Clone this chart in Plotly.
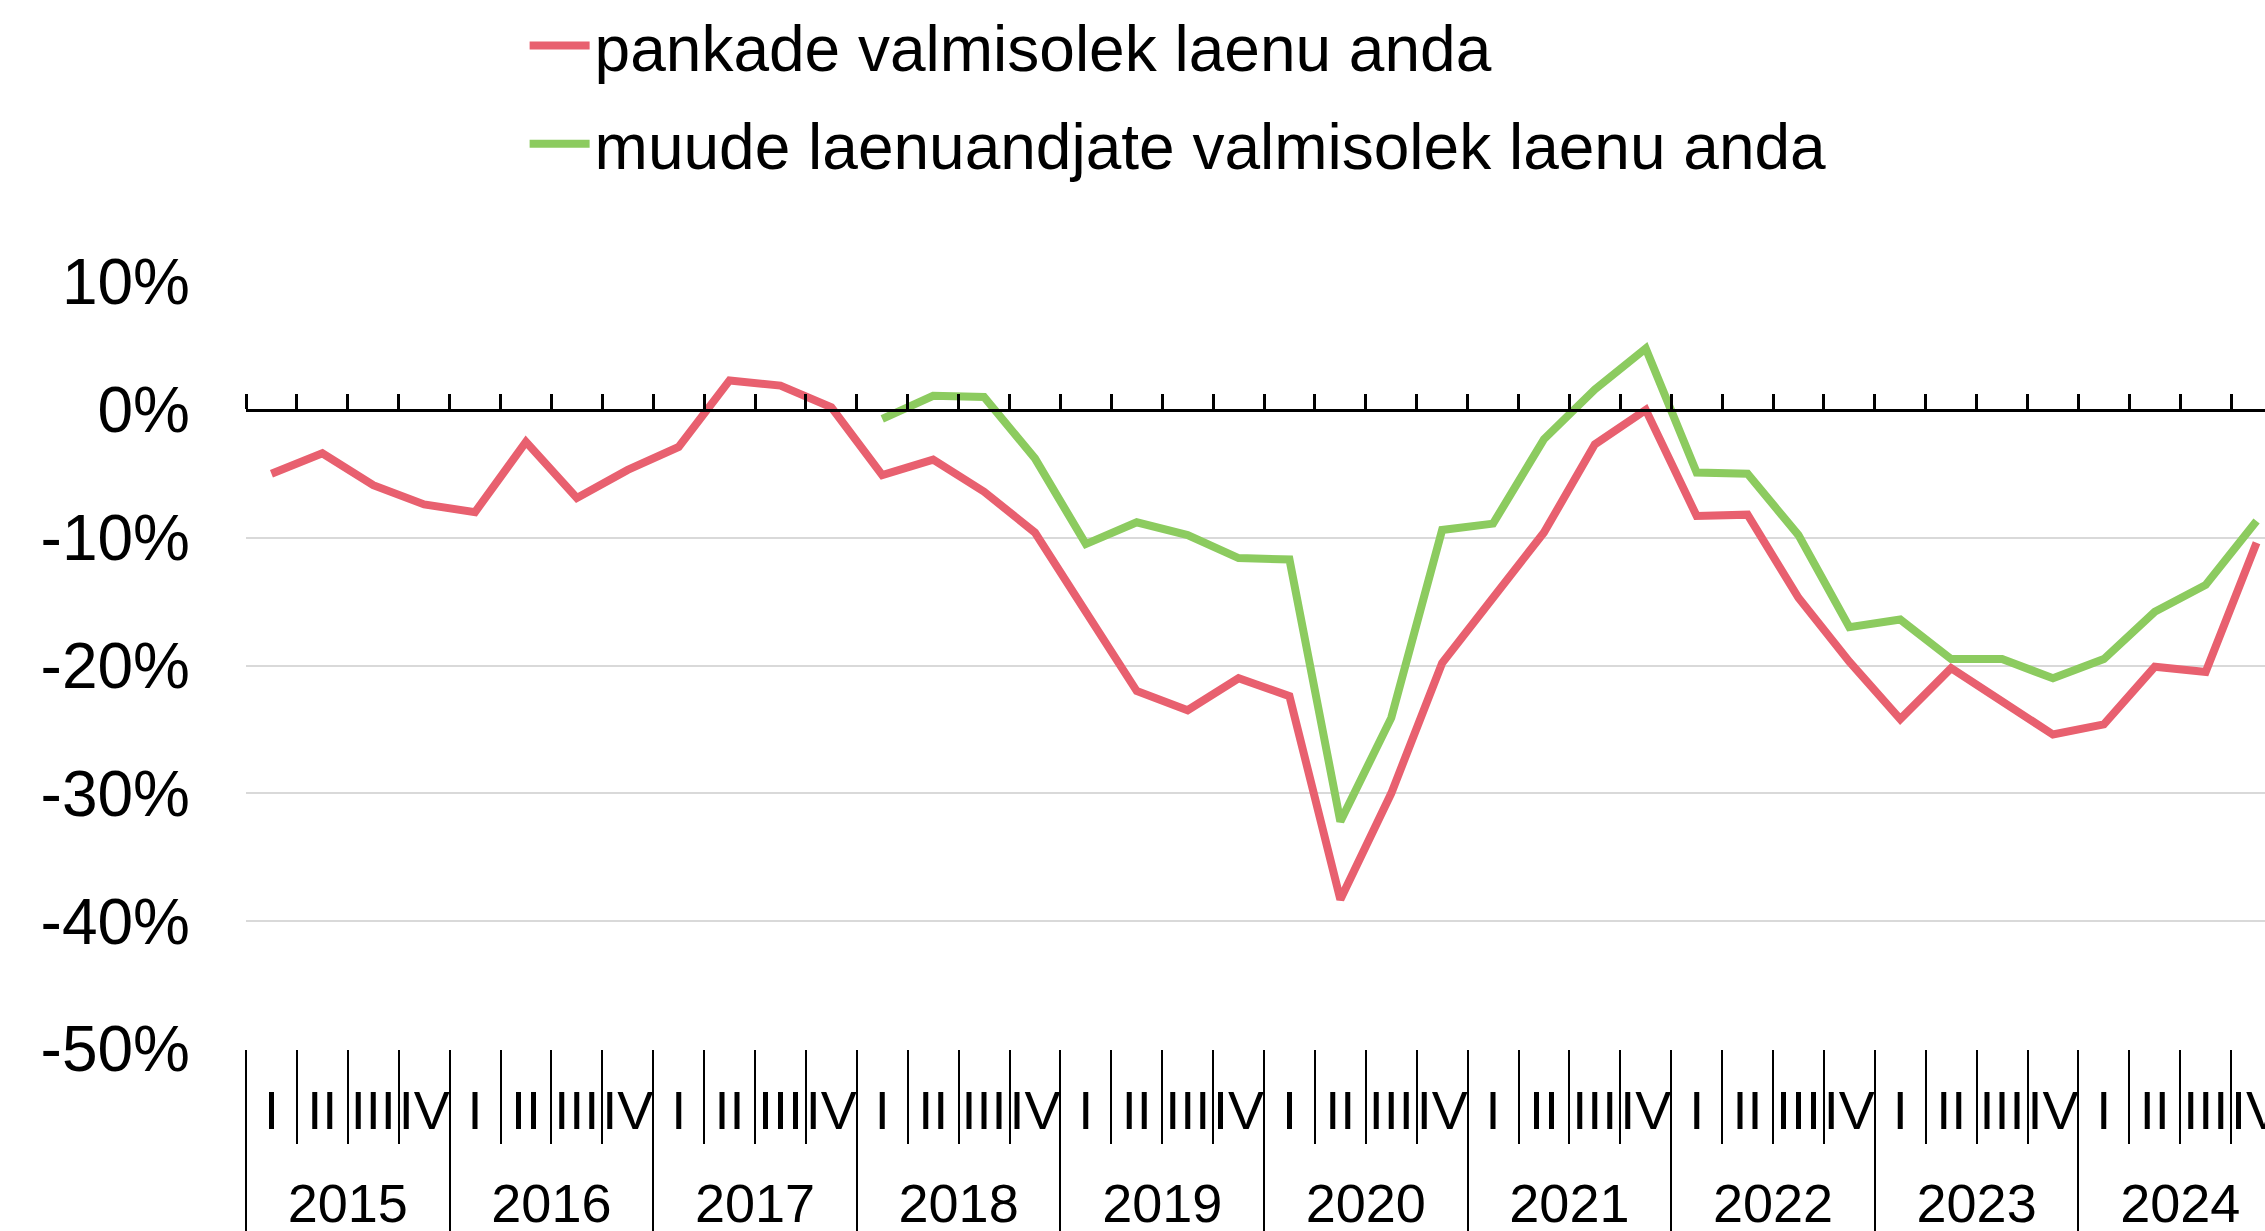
import plotly.graph_objects as go

years = ["2015", "2016", "2017", "2018", "2019", "2020", "2021", "2022", "2023", "2024"]
quarters = ["I", "II", "III", "IV"]

banks = [-5.0, -3.4, -5.9, -7.4,
         -8.0, -2.5, -6.9, -4.7,
         -2.9, 2.3, 1.9, 0.2,
         -5.1, -3.9, -6.4, -9.6,
         -15.8, -22.0, -23.5, -21.0,
         -22.4, -38.3, -30.0, -19.8,
         -14.7, -9.6, -2.7, 0.0,
         -8.3, -8.2, -14.7, -19.7,
         -24.2, -20.2, -22.8, -25.4,
         -24.6, -20.1, -20.5, -10.4]

others = [None, None, None, None,
          None, None, None, None,
          None, None, None, None,
          -0.7, 1.1, 1.0, -3.8,
          -10.5, -8.8, -9.8, -11.6,
          -11.7, -32.2, -24.1, -9.4,
          -8.9, -2.3, 1.6, 4.8,
          -4.9, -5.0, -9.8, -17.0,
          -16.4, -19.5, -19.5, -21.0,
          -19.5, -15.8, -13.7, -8.7]

names = ["pankade valmisolek laenu anda", "muude laenuandjate valmisolek laenu anda"]
colors = ["#E8606F", "#8CCB5F"]

y_tickvals = [10, 0, -10, -20, -30, -40, -50]
y_ticktext = ["10%", "0%", "-10%", "-20%", "-30%", "-40%", "-50%"]

cats = [f"{y} {q}" for y in years for q in quarters]
qlabels = [q for y in years for q in quarters]
n = len(cats)

W, H = 2265, 1231
ML, MR, MT, MB = 246, 0, 282, 182
plot_w = W - ML - MR
q_px = 50.9
xmax = -0.5 + plot_w / q_px
yr = [-50, 10]
FONT = "Liberation Sans, Arial, sans-serif"

fig = go.Figure()
fig.add_trace(go.Scatter(x=cats, y=banks, name=names[0], mode="lines",
                         line=dict(color=colors[0], width=8), legendgroup="a"))
fig.add_trace(go.Scatter(x=cats, y=others, name=names[1], mode="lines",
                         line=dict(color=colors[1], width=8), legendgroup="b"))
# helper traces for the overlay axes
fig.add_trace(go.Scatter(x=cats, y=[None] * n, xaxis="x2", showlegend=False,
                         hoverinfo="skip", mode="lines"))
fig.add_trace(go.Scatter(x=list(range(n)), y=[None] * n, xaxis="x3", showlegend=False,
                         hoverinfo="skip", mode="lines"))

year_centers = [4 * k + 1.5 for k in range(len(years))]
year_bounds = [4 * k - 0.5 for k in range(len(years) + 1)]

fig.update_layout(
    width=W, height=H,
    margin=dict(l=ML, r=MR, t=MT, b=MB, pad=0, autoexpand=False),
    plot_bgcolor="white", paper_bgcolor="white",
    font=dict(family=FONT, color="black"),
    showlegend=True,
    legend=dict(x=0.138, y=1.371, xanchor="left", yanchor="top",
                font=dict(size=64, family=FONT, color="black"),
                itemwidth=60,
                tracegroupgap=12, bgcolor="rgba(0,0,0,0)"),
    xaxis=dict(type="category", categoryorder="array", categoryarray=cats,
               range=[-0.5, xmax], tickvals=cats, ticktext=qlabels,
               ticks="outside", tickson="boundaries", ticklen=94, tickwidth=2,
               tickcolor="black", showgrid=False, showline=False, zeroline=False,
               tickfont=dict(size=54, family=FONT, color="black"),
               ticklabelstandoff=25, tickangle=0, automargin=False),
    xaxis2=dict(type="category", categoryorder="array", categoryarray=cats,
                range=[-0.5, xmax], overlaying="x", anchor="free",
                position=(0 - yr[0]) / (yr[1] - yr[0]), side="top",
                ticks="outside", tickson="boundaries", ticklen=15, tickwidth=2.5,
                tickcolor="black", showline=True, linecolor="black", linewidth=3,
                showticklabels=False, showgrid=False, zeroline=False, automargin=False),
    xaxis3=dict(type="linear", range=[-0.5, xmax], overlaying="x", anchor="y",
                side="bottom", tickmode="array", tickvals=year_centers, ticktext=years,
                ticks="", showgrid=False, zeroline=False, showline=False,
                tickfont=dict(size=54, family=FONT, color="black"),
                ticklabelstandoff=118, automargin=False,
                minor=dict(tickmode="array", tickvals=year_bounds, ticks="outside",
                           ticklen=182, tickwidth=2, tickcolor="black", showgrid=False)),
    yaxis=dict(range=yr, tickmode="array", tickvals=y_tickvals, ticktext=y_ticktext,
               showgrid=True, gridcolor="#D9D9D9", gridwidth=2, zeroline=False,
               showline=False, ticks="", automargin=False,
               tickfont=dict(size=64, family=FONT, color="black"),
               ticklabelstandoff=55),
)

fig.write_html(
    "out.html",
    config={"displayModeBar": False},
    post_script="document.body.style.margin='0px';document.body.style.overflow='hidden';",
)
